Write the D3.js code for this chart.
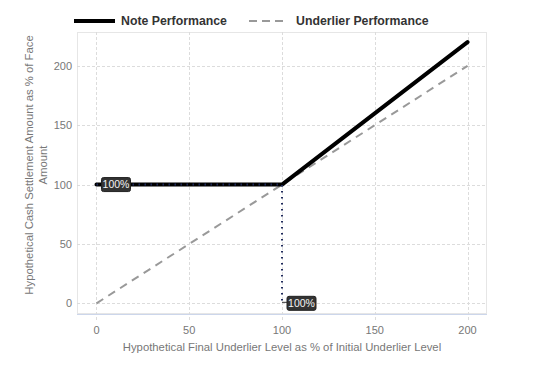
<!DOCTYPE html>
<html>
<head>
<meta charset="utf-8">
<script src="https://cdn.jsdelivr.net/npm/d3@7"></script>
<style>
  body { margin: 0; background: #fff; }
  svg { font-family: "Liberation Sans", Arial, sans-serif; }
</style>
</head>
<body>
<svg id="chart" width="543" height="380"></svg>
<script>
// chart data
var underlierLevels = [0, 100, 200];
var notePerformance = [100, 100, 220];
var underlierPerformance = [0, 100, 200];
var xTicks = [0, 50, 100, 150, 200];
var yTicks = [0, 50, 100, 150, 200];
var guideX = [0, 100];       // dotted guide along y=100 and down at x=100
var guideY = [100, 0];
var labelX = [0, 100];
var labelY = [100, 0];
var labelText = ["100%", "100%"];

var svg = d3.select("#chart");
var plotLeft = 77, plotRight = 487, plotTop = 32, plotBottom = 314;

var x = d3.scaleLinear().domain([-10.5, 210.5]).range([plotLeft, plotRight]);
var y = d3.scaleLinear().domain([-9, 228.5]).range([plotBottom, plotTop]);

// plot border
svg.append("rect")
	.attr("x", plotLeft + 0.5).attr("y", plotTop + 0.5)
	.attr("width", plotRight - plotLeft - 1).attr("height", plotBottom - plotTop - 1)
	.attr("fill", "none").attr("stroke", "#e6e6e6");

// grid lines
svg.append("g").selectAll("line").data(xTicks).join("line")
	.attr("x1", function(d) { return Math.round(x(d)) + 0.5; })
	.attr("x2", function(d) { return Math.round(x(d)) + 0.5; })
	.attr("y1", plotTop).attr("y2", plotBottom + 6)
	.attr("stroke", "#dcdcdc").attr("stroke-dasharray", "3,2");

svg.append("g").selectAll("line").data(yTicks).join("line")
	.attr("x1", plotLeft).attr("x2", plotRight)
	.attr("y1", function(d) { return Math.round(y(d)) + 0.5; })
	.attr("y2", function(d) { return Math.round(y(d)) + 0.5; })
	.attr("stroke", "#dcdcdc").attr("stroke-dasharray", "3,2");

// bottom axis line
svg.append("line")
	.attr("x1", plotLeft).attr("x2", plotRight)
	.attr("y1", plotBottom + 0.5).attr("y2", plotBottom + 0.5)
	.attr("stroke", "#ccd6eb");

// tick labels
svg.append("g").selectAll("text").data(xTicks).join("text")
	.attr("x", function(d) { return x(d); })
	.attr("y", plotBottom + 20)
	.attr("text-anchor", "middle")
	.attr("font-size", 11).attr("fill", "#777")
	.text(function(d) { return d; });

svg.append("g").selectAll("text").data(yTicks).join("text")
	.attr("x", plotLeft - 5)
	.attr("y", function(d) { return y(d) + 4; })
	.attr("text-anchor", "end")
	.attr("font-size", 11).attr("fill", "#777")
	.text(function(d) { return d; });

// axis titles
svg.append("text")
	.attr("x", (plotLeft + plotRight) / 2).attr("y", 351)
	.attr("text-anchor", "middle")
	.attr("font-size", 11.3).attr("fill", "#777")
	.text("Hypothetical Final Underlier Level as % of Initial Underlier Level");

var ytitle = svg.append("text")
	.attr("transform", "translate(33,165) rotate(-90)")
	.attr("text-anchor", "middle")
	.attr("font-size", 11.3).attr("fill", "#777");
ytitle.append("tspan").attr("x", 0).attr("y", 0)
	.text("Hypothetical Cash Settlement Amount as % of Face");
ytitle.append("tspan").attr("x", 0).attr("y", 14).text("Amount");

var line = d3.line()
	.x(function(d) { return x(d[0]); })
	.y(function(d) { return y(d[1]); });

// underlier performance (dashed)
svg.append("path")
	.datum(d3.zip(underlierLevels, underlierPerformance))
	.attr("d", line)
	.attr("fill", "none").attr("stroke", "#999")
	.attr("stroke-width", 2).attr("stroke-dasharray", "8,6");

// note performance
svg.append("path")
	.datum(d3.zip(underlierLevels, notePerformance))
	.attr("d", line)
	.attr("fill", "none").attr("stroke", "#000")
	.attr("stroke-width", 4).attr("stroke-linecap", "round")
	.attr("stroke-linejoin", "round");

// dotted guide
svg.append("path")
	.datum([[guideX[0], guideY[0]], [guideX[1], guideY[0]], [guideX[1], guideY[1]]])
	.attr("d", line)
	.attr("fill", "none").attr("stroke", "#1f2a5c")
	.attr("stroke-width", 2).attr("stroke-dasharray", "1.5,4.5");

// data labels
var labels = svg.append("g").selectAll("g").data(d3.range(labelText.length)).join("g")
	.attr("transform", function(i) { return "translate(" + x(labelX[i]) + "," + y(labelY[i]) + ")"; });

labels.filter(function(i) { return i == 1; }).append("line")
	.attr("x1", 0).attr("x2", 6).attr("y1", -1).attr("y2", -1)
	.attr("stroke", "#333").attr("stroke-width", 1);

labels.append("rect")
	.attr("x", 5)
	.attr("y", -7).attr("width", 29).attr("height", 14)
	.attr("rx", 2).attr("fill", "#333").attr("stroke", "#222");

labels.append("text")
	.attr("x", 19.5).attr("y", 3.5)
	.attr("text-anchor", "middle")
	.attr("font-size", 10.5).attr("fill", "#f4f4f4")
	.text(function(i) { return labelText[i]; });

// legend
var legend = svg.append("g");
legend.append("line")
	.attr("x1", 74).attr("x2", 115).attr("y1", 21).attr("y2", 21)
	.attr("stroke", "#000").attr("stroke-width", 4);
legend.append("text")
	.attr("x", 121).attr("y", 25)
	.attr("font-size", 12.3).attr("font-weight", "bold").attr("fill", "#333")
	.text("Note Performance");
legend.append("line")
	.attr("x1", 249).attr("x2", 284).attr("y1", 21).attr("y2", 21)
	.attr("stroke", "#999").attr("stroke-width", 2).attr("stroke-dasharray", "8,5");
legend.append("text")
	.attr("x", 296).attr("y", 25)
	.attr("font-size", 12.3).attr("font-weight", "bold").attr("fill", "#333")
	.text("Underlier Performance");
</script>
</body>
</html>
